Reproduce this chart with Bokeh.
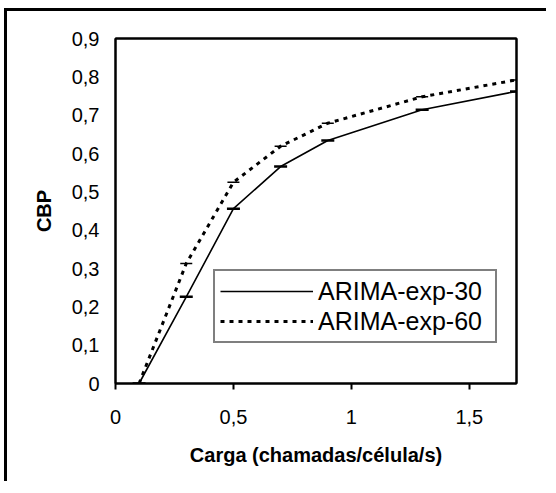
from bokeh.plotting import figure
from bokeh.models import Range1d, Legend, LegendItem, FixedTicker, LinearAxis
from bokeh.embed import file_html
from bokeh.resources import INLINE

# Data
carga = [0.1, 0.3, 0.5, 0.7, 0.9, 1.3, 1.7]
arima_exp_30 = [0.0, 0.226, 0.456, 0.566, 0.634, 0.714, 0.762]
arima_exp_60 = [0.0, 0.313, 0.525, 0.619, 0.679, 0.748, 0.792]
x_ticks = [0, 0.5, 1, 1.5]
x_tick_labels = ["0", "0,5", "1", "1,5"]
y_ticks = [0, 0.1, 0.2, 0.3, 0.4, 0.5, 0.6, 0.7, 0.8, 0.9]
y_tick_labels = ["0", "0,1", "0,2", "0,3", "0,4", "0,5", "0,6", "0,7", "0,8", "0,9"]

FONT = "Liberation Sans"

p = figure(output_backend="svg", toolbar_location=None,
           frame_width=401, frame_height=345,
           x_range=Range1d(0, 1.7), y_range=Range1d(0, 0.9),
           min_border_left=108, min_border_top=27, min_border_right=30,
           min_border_bottom=98)
p.styles = {"border-top": "3px solid black", "border-left": "3px solid black",
            "margin-top": "8px", "margin-left": "4px"}

p.xgrid.visible = False
p.ygrid.visible = False
p.outline_line_color = "black"
p.outline_line_width = 2

for ax in (p.xaxis[0], p.yaxis[0]):
    ax.axis_line_width = 2
    ax.major_tick_line_width = 2
    ax.minor_tick_line_color = None
    ax.major_label_text_font = FONT
    ax.major_label_text_font_size = "20px"
    ax.major_label_text_color = "black"
    ax.axis_label_text_font = FONT
    ax.axis_label_text_font_size = "20px"
    ax.axis_label_text_font_style = "bold"
    ax.axis_label_text_color = "black"

p.xaxis.ticker = FixedTicker(ticks=x_ticks)
p.xaxis.major_label_overrides = {t: l for t, l in zip(x_ticks, x_tick_labels)}
p.xaxis.major_tick_out = 6
p.xaxis.major_tick_in = 0
p.xaxis.major_label_standoff = 20
p.xaxis.axis_label = "Carga (chamadas/célula/s)"
p.xaxis.axis_label_standoff = 17

p.yaxis.ticker = FixedTicker(ticks=y_ticks)
p.yaxis.major_label_overrides = {t: l for t, l in zip(y_ticks, y_tick_labels)}
p.yaxis.major_tick_out = 0
p.yaxis.major_tick_in = 0
p.yaxis.major_label_standoff = 16
p.yaxis.axis_label = "CBP"
p.yaxis.axis_label_standoff = 14

# frame top / right edges drawn as bare axes
for side in ("above", "right"):
    a = LinearAxis(ticker=FixedTicker(ticks=[]), axis_line_width=2,
                   major_tick_line_color=None, minor_tick_line_color=None,
                   major_label_text_font_size="0px")
    p.add_layout(a, side)

r1 = p.line(carga, arima_exp_30, line_color="black", line_width=1.6)
m1 = p.scatter(carga, arima_exp_30, marker="dash", size=13, line_color="black", line_width=2.5)
r2 = p.line(carga, arima_exp_60, line_color="black", line_width=3, line_dash="4 5")
m2 = p.scatter(carga, arima_exp_60, marker="dash", size=12, line_color="black", line_width=1.5)

legend = Legend(items=[LegendItem(label="ARIMA-exp-30", renderers=[r1]),
                       LegendItem(label="ARIMA-exp-60", renderers=[r2])],
                location=(98, 40))
legend.label_text_font = FONT
legend.label_text_font_size = "25px"
legend.label_text_color = "black"
legend.border_line_color = "black"
legend.border_line_width = 2
legend.padding = 5
legend.spacing = 0
legend.margin = 0
legend.glyph_width = 93
legend.glyph_height = 30
legend.label_height = 30
legend.label_width = 172
legend.label_standoff = 5
legend.background_fill_alpha = 1
p.add_layout(legend)

open("out.html", "w").write(file_html(p, INLINE))
